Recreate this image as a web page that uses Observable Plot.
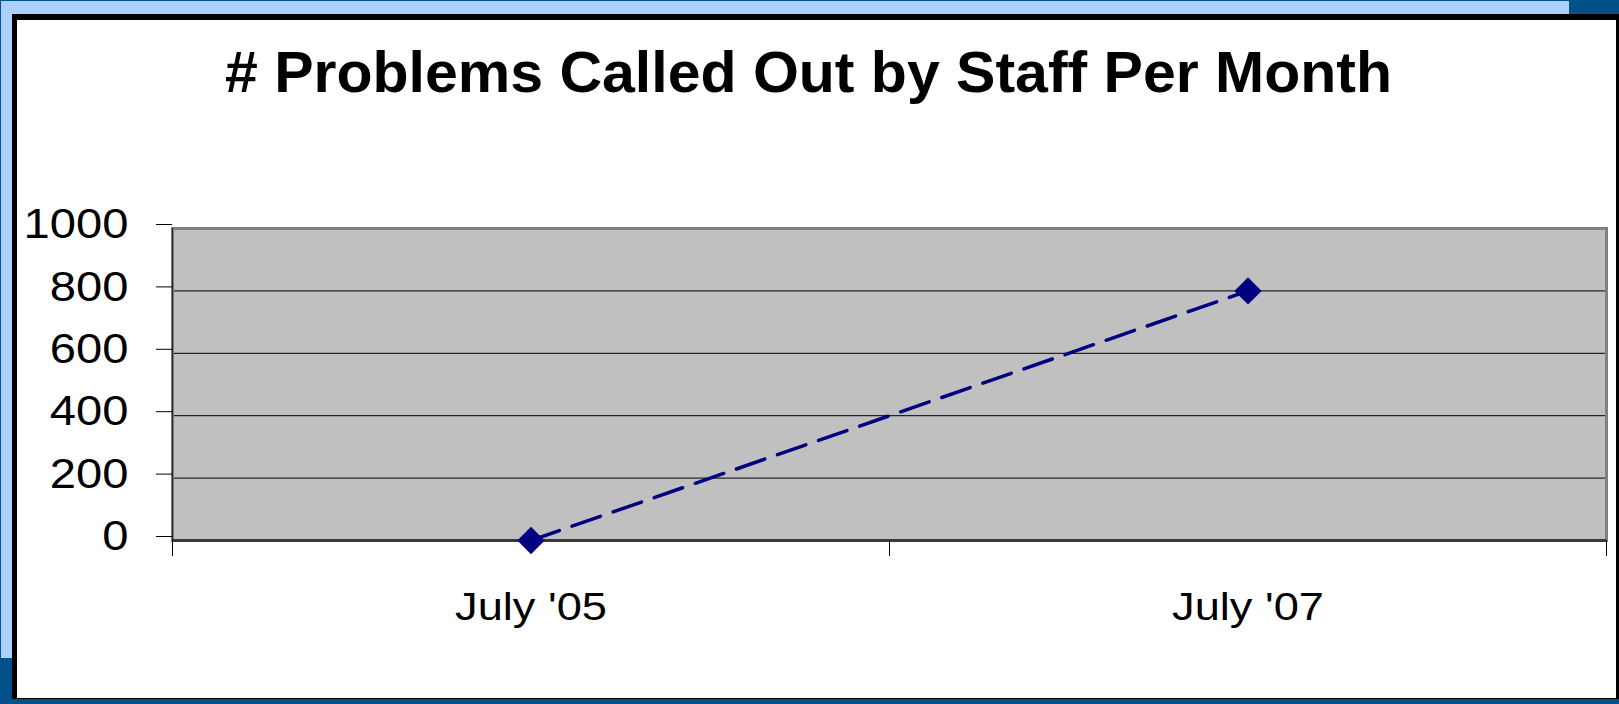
<!DOCTYPE html>
<html>
<head>
<meta charset="utf-8">
<script src="https://cdn.jsdelivr.net/npm/d3@7"></script>
<script src="https://cdn.jsdelivr.net/npm/@observablehq/plot@0.6"></script>
<style>
  html, body { margin: 0; padding: 0; background: #00508a; }
  #page { position: relative; width: 1619px; height: 704px; overflow: hidden; background: #00508a;
          font-family: "Liberation Sans", Arial, sans-serif; }
  .band { position: absolute; background: #abd0fb; }
  #border { position: absolute; left: 12px; top: 14px; width: 1607px; height: 685px; background: #000; }
  #sheet { position: absolute; left: 17px; top: 20px; width: 1599px; height: 678px; background: #fff; }
  #title { position: absolute; left: 0; top: 44px; width: 1617px; text-align: center;
           font-size: 57px; line-height: 57px; font-weight: bold; color: #000;
           transform: scaleX(1.035); transform-origin: 808px 0; white-space: nowrap; }
  #chart { position: absolute; left: 0; top: 0; }
</style>
</head>
<body>
<div id="page">
  <div class="band" style="left:1px;top:1px;width:1568px;height:13px"></div>
  <div class="band" style="left:1px;top:1px;width:11px;height:657px"></div>
  <div id="border"></div>
  <div id="sheet"></div>
  <div id="title"></div>
  <div id="chart"></div>
</div>
<script>
// Chart content
const chartTitle = "# Problems Called Out by Staff Per Month";
const months = ["July '05", "July '07"];
const problems = [0, 800];
const yTicks = [0, 200, 400, 600, 800, 1000];

// Each month occupies one unit-wide category slot; the point sits in its middle.
const rows = months.map((m, i) => ({ month: m, slot: i + 0.5, value: problems[i] }));
const slotEdges = d3.range(months.length + 1);
const slotMiddles = rows.map(d => d.slot);

document.getElementById("title").textContent = chartTitle;

const navy = "#000080";

const chart = Plot.plot({
  width: 1619,
  height: 704,
  marginLeft: 172,
  marginRight: 13,
  marginTop: 228,
  marginBottom: 164,
  style: { background: "transparent", fontFamily: "'Liberation Sans', Arial, sans-serif", color: "#000", overflow: "visible" },
  x: { domain: [0, months.length], label: null },
  y: { domain: [0, 1000], label: null },
  marks: [
    Plot.frame({ fill: "#c0c0c0" }),
    Plot.gridY(yTicks.slice(1, -1), { stroke: "#000", strokeOpacity: 1, strokeWidth: 1 }),
    Plot.frame({ stroke: "#808080", strokeWidth: 3 }),
    Plot.ruleY([0], { stroke: "#3a3a3a", strokeWidth: 3 }),
    Plot.ruleX([0], { stroke: "#222", strokeWidth: 1 }),
    Plot.axisY(yTicks, {
      label: null, tickSize: 16, tickPadding: 28, fontSize: 42.5, dy: -4,
      tickFormat: d => String(d)
    }),
    Plot.axisX(slotEdges, { label: null, tickSize: 16, tickFormat: () => "" }),
    Plot.axisX(slotMiddles, {
      label: null, tickSize: 0, tickPadding: 53, fontSize: 38,
      tickFormat: v => months[Math.floor(v)]
    }),
    Plot.line(rows, { x: "slot", y: "value", stroke: navy, strokeWidth: 3.5, strokeDasharray: "30,13.5" }),
    Plot.dot(rows, { x: "slot", y: "value", symbol: "diamond2", r: 12.3, fill: navy, stroke: null })
  ]
});

// Widen the tick labels horizontally around their anchors.
const widen = (sel, k) => d3.select(chart).selectAll(sel).attr("transform", function () {
  return (this.getAttribute("transform") || "") + ` scale(${k},1)`;
});
widen('g[aria-label="y-axis tick label"] text', 1.11);
widen('g[aria-label="x-axis tick label"] text', 1.19);

document.getElementById("chart").appendChild(chart);
</script>
</body>
</html>
